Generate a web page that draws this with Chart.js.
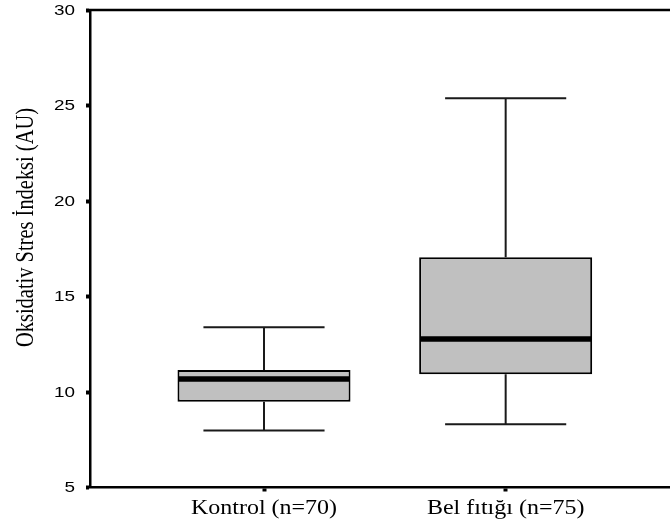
<!DOCTYPE html>
<html>
<head>
<meta charset="utf-8">
<script src="https://cdn.jsdelivr.net/npm/chart.js@4/dist/chart.umd.min.js"></script>
<style>
  html, body { margin: 0; padding: 0; background: #fff; overflow: hidden; }
  #wrap { width: 670px; height: 522px; }
</style>
</head>
<body>
<div id="wrap"><canvas id="c" width="670" height="522"></canvas></div>
<script>
// Group labels and box-plot summary values (Oksidativ Stres İndeksi, AU)
const categories   = ['Kontrol (n=70)', 'Bel fıtığı (n=75)'];
const whiskerLow   = [7.99, 8.31];
const quartile1    = [9.49, 10.93];
const medianValues = [10.68, 12.77];
const quartile3    = [11.15, 17.05];
const whiskerHigh  = [13.39, 25.38];
const yTickValues  = [5, 10, 15, 20, 25, 30];
const yTitle = 'Oksidativ Stres İndeksi (AU)';

// Positions of the groups along the x axis
const groupPositions = categories.map((c, i) => i + 1);

// Whiskers, medians, frame top and the (stretched) text labels
const boxExtras = {
  id: 'boxExtras',
  afterDatasetsDraw(chart) {
    const { ctx, scales: { y } } = chart;
    const meta = chart.getDatasetMeta(0);
    ctx.save();
    meta.data.forEach((bar, i) => {
      const cx = bar.x;
      const half = bar.width / 2;
      const capHalf = bar.width * 0.35;
      const yHi = y.getPixelForValue(whiskerHigh[i]);
      const yLo = y.getPixelForValue(whiskerLow[i]);
      const yQ3 = y.getPixelForValue(quartile3[i]);
      const yQ1 = y.getPixelForValue(quartile1[i]);
      const yMed = y.getPixelForValue(medianValues[i]);
      // whisker stems and caps
      ctx.strokeStyle = '#1a1a1a';
      ctx.lineWidth = 2;
      ctx.beginPath();
      ctx.moveTo(cx, yQ3); ctx.lineTo(cx, yHi);
      ctx.moveTo(cx - capHalf, yHi); ctx.lineTo(cx + capHalf, yHi);
      ctx.moveTo(cx, yQ1); ctx.lineTo(cx, yLo);
      ctx.moveTo(cx - capHalf, yLo); ctx.lineTo(cx + capHalf, yLo);
      ctx.stroke();
      // median bar
      ctx.strokeStyle = '#000';
      ctx.lineWidth = 5.5;
      ctx.beginPath();
      ctx.moveTo(cx - half + 1, yMed); ctx.lineTo(cx + half - 1, yMed);
      ctx.stroke();
    });
    ctx.restore();
  },
  afterDraw(chart) {
    const { ctx, chartArea, scales: { x, y } } = chart;
    ctx.save();
    // top edge of the frame
    ctx.strokeStyle = '#000';
    ctx.lineWidth = 2.5;
    ctx.beginPath();
    ctx.moveTo(chartArea.left - 1, chartArea.top);
    ctx.lineTo(chartArea.right, chartArea.top);
    ctx.stroke();

    ctx.fillStyle = '#000';
    // y tick labels
    ctx.font = '14px "Liberation Sans", Arial, sans-serif';
    ctx.textAlign = 'right';
    ctx.textBaseline = 'middle';
    yTickValues.forEach(v => {
      const py = y.getPixelForValue(v);
      ctx.save();
      ctx.translate(75, py + 1);
      ctx.scale(1.35, 1);
      ctx.fillText(String(v), 0, 0);
      ctx.restore();
    });

    // x tick labels
    ctx.font = '20px "Liberation Serif", "Times New Roman", serif';
    ctx.textAlign = 'center';
    ctx.textBaseline = 'alphabetic';
    categories.forEach((label, i) => {
      const px = x.getPixelForValue(groupPositions[i]);
      ctx.save();
      ctx.translate(px, 514);
      ctx.scale(1.2, 1);
      ctx.fillText(label, 0, 0);
      ctx.restore();
    });

    // y axis title, condensed along its length
    ctx.font = '26px "Liberation Serif", "Times New Roman", serif';
    const natural = ctx.measureText(yTitle).width;
    const sx = 239 / natural;
    ctx.save();
    ctx.translate(33, 227.5);
    ctx.rotate(-Math.PI / 2);
    ctx.scale(sx, 1);
    ctx.textAlign = 'center';
    ctx.textBaseline = 'alphabetic';
    ctx.fillText(yTitle, 0, 0);
    ctx.restore();
    ctx.restore();
  }
};

new Chart(document.getElementById('c'), {
  type: 'bar',
  data: {
    datasets: [{
      data: categories.map((c, i) => ({ x: groupPositions[i], y: [quartile1[i], quartile3[i]] })),
      backgroundColor: '#c0c0c0',
      borderColor: '#000',
      borderWidth: 2,
      borderSkipped: false,
      categoryPercentage: 0.716,
      barPercentage: 1
    }]
  },
  options: {
    responsive: false,
    animation: false,
    devicePixelRatio: 1,
    layout: { padding: { left: 90, right: 0, top: 10, bottom: 34.5 } },
    plugins: { legend: { display: false }, tooltip: { enabled: false } },
    scales: {
      x: {
        type: 'linear',
        offset: false,
        min: 0.28,
        max: 2.68,
        afterBuildTicks: s => { s.ticks = groupPositions.map(v => ({ value: v })); },
        afterFit: s => { s.height = 0; },
        ticks: { display: false },
        grid: { display: true, offset: false, drawOnChartArea: false, drawTicks: true, tickLength: 4, tickWidth: 4, color: '#000' },
        border: { display: true, color: '#000', width: 2.5 }
      },
      y: {
        type: 'linear',
        min: 5,
        max: 30,
        afterBuildTicks: s => { s.ticks = yTickValues.map(v => ({ value: v })); },
        afterFit: s => { s.width = 0; },
        ticks: { display: false },
        grid: { display: true, drawOnChartArea: false, drawTicks: true, tickLength: 4, tickWidth: 4, color: '#000' },
        border: { display: true, color: '#000', width: 2.5 }
      }
    }
  },
  plugins: [boxExtras]
});
</script>
</body>
</html>
